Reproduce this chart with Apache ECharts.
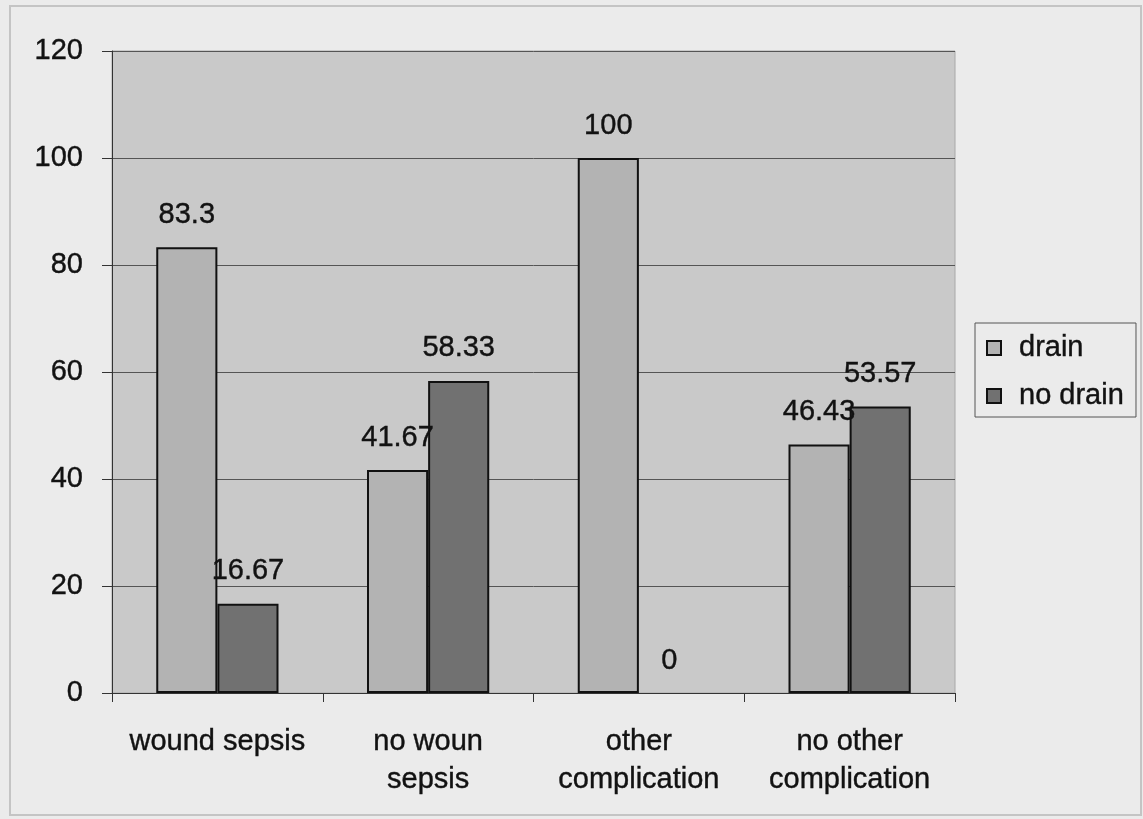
<!DOCTYPE html>
<html>
<head>
<meta charset="utf-8">
<script src="https://cdn.jsdelivr.net/npm/echarts@6/dist/echarts.min.js"></script>
<style>
html,body{margin:0;padding:0;background:#efefef;}
#c{width:1143px;height:819px;}
</style>
</head>
<body>
<div id="c"></div>
<script>
const categories = ['wound sepsis', 'no woun\nsepsis', 'other\ncomplication', 'no other\ncomplication'];
const drain = [83.3, 41.67, 100, 46.43];
const noDrain = [16.67, 58.33, 0, 53.57];
const seriesNames = ['drain', 'no drain'];

const FONT = '"Liberation Sans", Arial, sans-serif';
const TXT = '#121212';
const chart = echarts.init(document.getElementById('c'));
const labelCfg = {
  show: true,
  position: 'top',
  distance: 18,
  color: TXT,
  fontSize: 29,
  fontFamily: FONT,
  textBorderColor: TXT,
  textBorderWidth: 0.4,
  formatter: p => String(p.value)
};
// zero-height bars get no outline (as in the reference)
const toData = arr => arr.map(v => v === 0 ? { value: v, itemStyle: { borderWidth: 0 } } : v);

chart.setOption({
  backgroundColor: '#ebebeb',
  animation: false,
  graphic: [{
    type: 'rect',
    shape: { x: 10, y: 6, width: 1131, height: 809 },
    style: { fill: 'none', stroke: '#c4c4c4', lineWidth: 2 },
    silent: true
  }],
  grid: {
    left: 112, right: 188, top: 51, bottom: 126,
    show: true,
    backgroundColor: '#c9c9c9',
    borderColor: '#a8a8a8',
    borderWidth: 1
  },
  legend: {
    orient: 'vertical',
    left: 975, top: 323,
    padding: [10, 12, 6, 11],
    itemGap: 18,
    itemWidth: 14, itemHeight: 14,
    icon: 'rect',
    borderColor: '#555',
    borderWidth: 1,
    textStyle: {
      fontSize: 29, fontFamily: FONT, color: TXT,
      textBorderColor: TXT, textBorderWidth: 0.4,
      lineHeight: 30, padding: [0, 0, 0, 13]
    },
    data: seriesNames
  },
  xAxis: {
    type: 'category',
    data: categories,
    axisLine: { lineStyle: { color: '#333', width: 1 } },
    axisTick: { show: true, length: 9, lineStyle: { color: '#333' } },
    axisLabel: {
      fontSize: 29, fontFamily: FONT, color: TXT,
      textBorderColor: TXT, textBorderWidth: 0.4,
      margin: 30, lineHeight: 38, interval: 0
    }
  },
  yAxis: {
    type: 'value',
    min: 0, max: 120, interval: 20,
    axisLine: { show: true, lineStyle: { color: '#333', width: 1 } },
    axisTick: { show: true, length: 10, lineStyle: { color: '#333' } },
    axisLabel: {
      fontSize: 29, fontFamily: FONT, color: TXT, margin: 29,
      textBorderColor: TXT, textBorderWidth: 0.4
    },
    splitLine: { lineStyle: { color: '#555', width: 1 } }
  },
  series: [
    {
      name: seriesNames[0], type: 'bar', data: toData(drain),
      barGap: '0%', barCategoryGap: '42%',
      itemStyle: { color: '#b3b3b3', borderColor: '#111', borderWidth: 2 },
      label: labelCfg
    },
    {
      name: seriesNames[1], type: 'bar', data: toData(noDrain),
      barGap: '0%', barCategoryGap: '42%',
      itemStyle: { color: '#717171', borderColor: '#111', borderWidth: 2 },
      label: labelCfg
    }
  ]
});
</script>
</body>
</html>
